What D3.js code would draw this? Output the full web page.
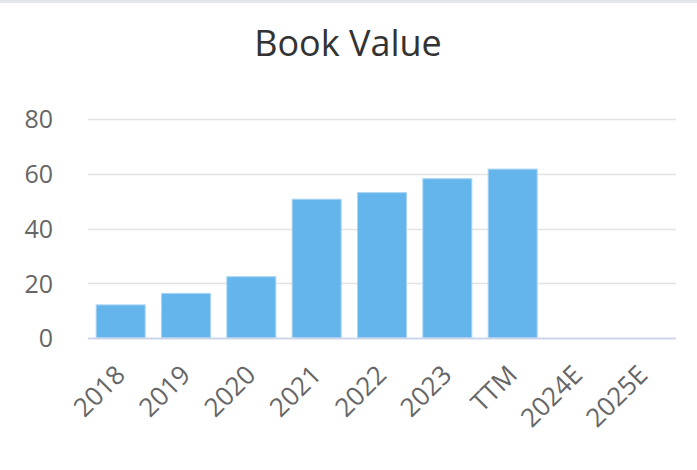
<!DOCTYPE html>
<html>
<head>
<meta charset="utf-8">
<script src="https://cdn.jsdelivr.net/npm/d3@7"></script>
<style>
  html, body { margin: 0; padding: 0; background: #ffffff; }
  svg { display: block; }
</style>
</head>
<body>
<svg id="chart" width="697" height="470"></svg>
<script>
const categories = ["2018", "2019", "2020", "2021", "2022", "2023", "TTM", "2024E", "2025E"];
const bookValue = [12.1, 16.3, 22.4, 50.7, 53.1, 58.2, 61.7, null, null];
const yTicks = [0, 20, 40, 60, 80];
const titleText = "Book Value";

const W = 697, H = 470;
const svg = d3.select("#chart");

// top frame strip
svg.append("rect").attr("x", 0).attr("y", 0).attr("width", W).attr("height", 3).attr("fill", "#e3e6ec");

const x = d3.scaleBand().domain(categories).range([88, 676]).paddingInner(0.25).paddingOuter(0.125);
const y = d3.scaleLinear().domain([0, 80]).range([338, 119]);

// title
svg.append("text")
  .attr("x", 348).attr("y", 56)
  .attr("text-anchor", "middle")
  .attr("font-family", "'Open Sans', sans-serif")
  .attr("font-size", 36)
  .attr("fill", "#333333")
  .text(titleText);

// y axis labels
const yAxis = d3.axisLeft(y).tickValues(yTicks).tickSize(0).tickPadding(0);
const gy = svg.append("g").attr("transform", "translate(53,0)").call(yAxis);
gy.select(".domain").remove();
gy.selectAll("text")
  .attr("font-family", "'Open Sans', sans-serif")
  .attr("font-size", 25)
  .attr("fill", "#666666")
  .attr("dy", "0.35em");

// gridlines
svg.append("g").selectAll("line")
  .data(yTicks.filter(d => d !== 0))
  .join("line")
  .attr("x1", 88).attr("x2", 676)
  .attr("y1", d => Math.round(y(d)) + 0.5).attr("y2", d => Math.round(y(d)) + 0.5)
  .attr("stroke", "#e3e3e3").attr("stroke-width", 1.5);

// bars
svg.append("g").selectAll("rect")
  .data(categories.map((c, i) => ({ c, v: bookValue[i] })).filter(d => d.v != null))
  .join("rect")
  .attr("x", d => x(d.c))
  .attr("y", d => y(d.v))
  .attr("width", x.bandwidth())
  .attr("height", d => y(0) - y(d.v))
  .attr("fill", "#64b5ec")
  .attr("stroke", "#a9d5f5")
  .attr("stroke-width", 1);

// x axis
const xAxis = d3.axisBottom(x).tickSize(0).tickPadding(0);
const gx = svg.append("g").attr("transform", "translate(0,338.5)").call(xAxis);
gx.select(".domain").attr("stroke", "#ccd6eb").attr("stroke-width", 2)
  .attr("d", "M88,0H676");
gx.selectAll("text")
  .attr("font-family", "'Open Sans', sans-serif")
  .attr("font-size", 26)
  .attr("fill", "#666666")
  .attr("text-anchor", "end")
  .attr("dy", 0)
  .attr("y", 0)
  .attr("transform", "translate(6,38) rotate(-45)");
</script>
</body>
</html>
